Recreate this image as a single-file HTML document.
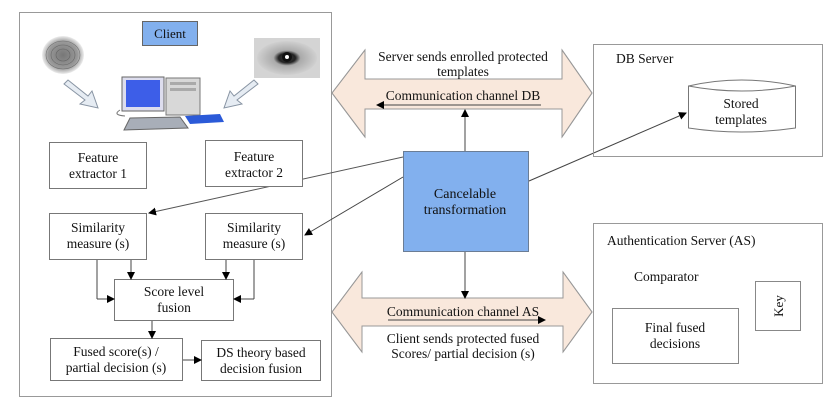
<!DOCTYPE html>
<html><head><meta charset="utf-8"><style>
html,body{margin:0;padding:0;background:#fff;}
svg{display:block;}
text{font-family:"Liberation Serif",serif;fill:#111;}
</style></head><body>
<svg width="831" height="409" viewBox="0 0 831 409" xmlns="http://www.w3.org/2000/svg">
<defs>
<marker id="ah" markerWidth="8" markerHeight="8" refX="7" refY="4" orient="auto" markerUnits="userSpaceOnUse">
<path d="M0,0 L8,4 L0,8 z" fill="#000"/></marker>
<radialGradient id="fp"><stop offset="0" stop-color="#777"/><stop offset="0.7" stop-color="#999"/><stop offset="1" stop-color="#eee"/></radialGradient>
<radialGradient id="eye"><stop offset="0" stop-color="#fff"/><stop offset="0.12" stop-color="#333"/><stop offset="0.28" stop-color="#222"/><stop offset="0.45" stop-color="#aaa"/><stop offset="1" stop-color="#d0d0d0"/></radialGradient>
</defs>
<g fill="none" stroke="#777" stroke-width="1">
<rect x="19.5" y="12.5" width="312" height="384" fill="#fff" stroke="#999"/>
<rect x="142.5" y="21.5" width="55" height="24" fill="#82b0ee" stroke="#666"/>
</g>
<text x="170" y="38" font-size="13" text-anchor="middle">Client</text>
<ellipse cx="63" cy="55" rx="21" ry="19" fill="url(#fp)"/>
<g stroke="#555" stroke-width="0.6" fill="none" opacity="0.7">
<ellipse cx="63" cy="55" rx="17" ry="14"/><ellipse cx="63" cy="55" rx="12" ry="10"/><ellipse cx="63" cy="55" rx="7" ry="6"/></g>
<rect x="254" y="38" width="66" height="40" fill="#d4d4d4"/>
<ellipse cx="287" cy="58" rx="30" ry="17" fill="url(#eye)"/>
<circle cx="287" cy="57" r="5" fill="#111"/>
<circle cx="287" cy="57" r="2" fill="#fff"/>
<path d="M68,80 L88,96 L92,91 L98,108 L80,104 L85,100 L64,84 z" fill="#e6ecf3" stroke="#8894a3"/>
<path d="M254,80 L234,96 L230,91 L224,108 L242,104 L237,100 L258,84 z" fill="#e6ecf3" stroke="#8894a3"/>
<rect x="122" y="77" width="42" height="34" fill="#dde" stroke="#666"/>
<rect x="126" y="80" width="34" height="27" fill="#3d5ee8"/>
<rect x="166" y="78" width="34" height="37" fill="#d8d8d8" stroke="#777"/>
<rect x="170" y="82" width="26" height="3" fill="#aaa"/><rect x="170" y="88" width="26" height="3" fill="#aaa"/>
<path d="M130,118 L180,117 L188,128 L124,130 z" fill="#a8aeb8" stroke="#666"/>
<path d="M185,116 L220,114 L224,122 L190,124 z" fill="#2b5ad8"/>
<path d="M120,110 Q112,115 125,116" fill="none" stroke="#777"/>
<g fill="#fff" stroke="#777">
<rect x="49.5" y="142.5" width="97" height="46"/>
<rect x="49.5" y="213.5" width="97" height="46"/>
<rect x="205.5" y="213.5" width="97" height="46"/>
<rect x="114.5" y="279.5" width="119" height="41"/>
<rect x="50.5" y="338.5" width="132" height="42"/>
<rect x="201.5" y="340.5" width="119" height="40"/>
</g>
<line x1="403" y1="157" x2="149" y2="213" stroke="#555" marker-end="url(#ah)"/>
<rect x="205.5" y="140.5" width="97" height="46" fill="#fff" stroke="#777"/>
<g font-size="13.5" text-anchor="middle">
<text x="98" y="162">Feature</text><text x="98" y="178">extractor 1</text>
<text x="254" y="161">Feature</text><text x="254" y="177">extractor 2</text>
<text x="98" y="232">Similarity</text><text x="98" y="248">measure (s)</text>
<text x="254" y="232">Similarity</text><text x="254" y="248">measure (s)</text>
<text x="174" y="296">Score level</text><text x="174" y="312">fusion</text>
<text x="116" y="356">Fused score(s) /</text><text x="116" y="372">partial decision (s)</text>
<text x="261" y="357">DS theory based</text><text x="261" y="373">decision fusion</text>
</g>
<g stroke="#444" fill="none">
<line x1="131" y1="260" x2="131" y2="279" marker-end="url(#ah)"/>
<line x1="97" y1="260" x2="97" y2="299" /><line x1="97" y1="299" x2="114" y2="299" marker-end="url(#ah)"/>
<line x1="226" y1="260" x2="226" y2="279" marker-end="url(#ah)"/>
<line x1="254" y1="260" x2="254" y2="299"/><line x1="254" y1="299" x2="234" y2="299" marker-end="url(#ah)"/>
<line x1="152" y1="321" x2="152" y2="338" marker-end="url(#ah)"/>
<line x1="183" y1="360" x2="201" y2="360" marker-end="url(#ah)"/>
<line x1="403" y1="177" x2="305" y2="235" marker-end="url(#ah)"/>
<line x1="529" y1="181" x2="686" y2="113" marker-end="url(#ah)"/>
</g>
<path d="M332,93 L365,50 L365,79 L562,79 L562,50 L592,93 L562,137 L562,109 L365,109 L365,137 z" fill="#f9e8dc" stroke="#999"/>
<path d="M332,312 L362,272 L362,298 L563,298 L563,272 L592,312 L563,352 L563,326 L362,326 L362,352 z" fill="#f9e8dc" stroke="#999"/>
<rect x="365" y="44" width="197" height="35" fill="#fff"/>
<rect x="365" y="110" width="197" height="30" fill="#fff"/>
<rect x="362" y="327" width="201" height="40" fill="#fff"/>
<rect x="362" y="265" width="201" height="32" fill="#fff"/>
<path d="M332,93 L365,50 L365,79 L562,79 L562,50 L592,93 L562,137 L562,109 L365,109 L365,137 z" fill="none" stroke="#999"/>
<path d="M332,312 L362,272 L362,298 L563,298 L563,272 L592,312 L563,352 L563,326 L362,326 L362,352 z" fill="none" stroke="#999"/>
<g font-size="13.5" text-anchor="middle">
<text x="463" y="61">Server sends enrolled protected</text>
<text x="463" y="76">templates</text>
<text x="463" y="100">Communication channel DB</text>
<text x="463" y="316">Communication channel AS</text>
<text x="463" y="343">Client sends protected fused</text>
<text x="463" y="358">Scores/ partial decision (s)</text>
</g>
<g stroke="#444">
<line x1="541" y1="105" x2="377" y2="105" marker-end="url(#ah)"/>
<line x1="388" y1="320" x2="545" y2="320" marker-end="url(#ah)"/>
<line x1="465" y1="151" x2="465" y2="110" marker-end="url(#ah)"/>
<line x1="465" y1="252" x2="465" y2="298" marker-end="url(#ah)"/>
</g>
<rect x="403.5" y="151.5" width="125" height="100" fill="#82b0ee" stroke="#6b7d95"/>
<text x="465" y="198" font-size="14" text-anchor="middle">Cancelable</text>
<text x="465" y="214" font-size="14" text-anchor="middle">transformation</text>
<rect x="593.5" y="44.5" width="229" height="112" fill="none" stroke="#999"/>
<text x="616" y="63" font-size="13.5">DB Server</text>
<path d="M688.5,86 Q741,74 795.5,86 L795.5,128 Q741,136 688.5,128 z" fill="#fff" stroke="#777"/>
<path d="M688.5,86 Q741,96 795.5,86" fill="none" stroke="#777"/>
<text x="741" y="108" font-size="13.5" text-anchor="middle">Stored</text>
<text x="741" y="124" font-size="13.5" text-anchor="middle">templates</text>
<rect x="593.5" y="223.5" width="229" height="160" fill="none" stroke="#999"/>
<text x="607" y="245" font-size="13.5">Authentication Server (AS)</text>
<text x="634" y="281" font-size="13.5">Comparator</text>
<rect x="755.5" y="281.5" width="45" height="49" fill="#fff" stroke="#888"/>
<text transform="translate(783,306) rotate(-90)" font-size="13" text-anchor="middle">Key</text>
<rect x="612.5" y="308.5" width="126" height="55" fill="#fff" stroke="#888"/>
<text x="675" y="332" font-size="13.5" text-anchor="middle">Final fused</text>
<text x="675" y="348" font-size="13.5" text-anchor="middle">decisions</text>
</svg>
</body></html>
